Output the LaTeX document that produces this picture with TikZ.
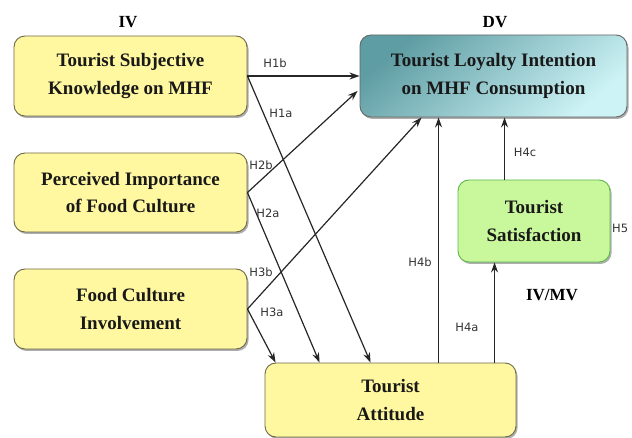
\documentclass[tikz,border=0pt]{standalone}
\usepackage{fontspec}
\setmainfont{Liberation Serif}
\newfontfamily\boxfont{Liberation Serif}
\newfontfamily\labfont{DejaVu Sans}
\usetikzlibrary{shadows,arrows.meta,calc}
\definecolor{boxyellow}{HTML}{FFF8A0}
\definecolor{boxedge}{HTML}{6E6A4A}
\definecolor{tealdark}{HTML}{5E9DA3}
\definecolor{teallight}{HTML}{CDF3F6}
\definecolor{satfill}{HTML}{C9F89C}
\definecolor{satedge}{HTML}{5DB84A}
\definecolor{labgray}{HTML}{333333}
\tikzset{
  box/.style={draw=boxedge, line width=0.9pt, rounded corners=11pt, align=center,
    font=\boxfont\bfseries\fontsize{19}{27.5}\selectfont, text=black!90,
    drop shadow={shadow xshift=1.5pt, shadow yshift=-2pt, fill=black!45, opacity=0.7}},
  ybox/.style={box, fill=boxyellow},
  dvbox/.style={box, draw=black!60, top color=tealdark, bottom color=teallight, shading angle=40},
  satbox/.style={box, draw=satedge, fill=satfill},
  arr/.style={-{Stealth[length=10pt,width=7pt]}, line width=1.2pt, draw=black!85},
  lab/.style={font=\labfont\fontsize{11.5}{12}\selectfont, text=labgray, inner sep=0pt},
  head/.style={font=\boxfont\bfseries\fontsize{17}{20}\selectfont, inner sep=0pt}
}
\begin{document}
\begin{tikzpicture}[x=1pt,y=-1pt]
\useasboundingbox (0,0) rectangle (632,438);
% boxes
\node[ybox, minimum width=233pt, minimum height=80pt] (tsk) at (130.5,76) {Tourist Subjective\\Knowledge on MHF};
\node[ybox, minimum width=233pt, minimum height=79pt] (pif) at (130.5,192.5) {Perceived Importance\\of Food Culture};
\node[ybox, minimum width=233pt, minimum height=80pt] (fci) at (130.5,309) {Food Culture\\Involvement};
\node[ybox, minimum width=251pt, minimum height=74pt] (att) at (390.5,400) {Tourist\\Attitude};
\node[dvbox, minimum width=267pt, minimum height=82pt] (dv) at (493.5,76) {Tourist Loyalty Intention\\on MHF Consumption};
\node[satbox, minimum width=152pt, minimum height=82pt] (sat) at (534,221) {Tourist\\Satisfaction};
% headings
\node[head] (iv) at (128,22) {IV};
\node[head] (dvl) at (495,22) {DV};
\node[head] (ivmv) at (552,295) {IV/MV};
% anchor coordinates
\coordinate (dvw2) at ($(dv.west)+(-2,15)$);
\coordinate (dvs3) at ($(dv.south west)+(62,0)$);
\coordinate (a1) at ($(att.north west)+(106,0)$);
\coordinate (a2) at ($(att.north west)+(55,0)$);
\coordinate (a3) at ($(att.north west)+(11,0)$);
\coordinate (a4b) at ($(att.north west)+(174,0)$);
\coordinate (a4a) at ($(att.north west)+(230,0)$);
\coordinate (s4c) at ($(sat.north west)+(47,0)$);
% connectors
\draw[arr] (tsk.east) -- (dv.west);
\draw[arr] (tsk.east) -- (a1);
\draw[arr] (pif.east) -- (dvw2);
\draw[arr] (pif.east) -- (a2);
\draw[arr] (fci.east) -- (dvs3);
\draw[arr] (fci.east) -- (a3);
\draw[arr] (a4b) -- (a4b |- dv.south);
\draw[arr] (a4a) -- (a4a |- sat.south);
\draw[arr] (s4c) -- (s4c |- dv.south);
% labels
\node[lab] (l1b) at (275,63) {H1b};
\node[lab] (l1a) at (281,113) {H1a};
\node[lab] (l2b) at (261,165) {H2b};
\node[lab] (l2a) at (268,213) {H2a};
\node[lab] (l3b) at (261,272) {H3b};
\node[lab] (l3a) at (272,312) {H3a};
\node[lab] (l4b) at (420,262) {H4b};
\node[lab] (l4a) at (467,327) {H4a};
\node[lab] (l4c) at (525,152) {H4c};
\node[lab, anchor=west] (l5) at (612,228) {H5};
\end{tikzpicture}
\end{document}
